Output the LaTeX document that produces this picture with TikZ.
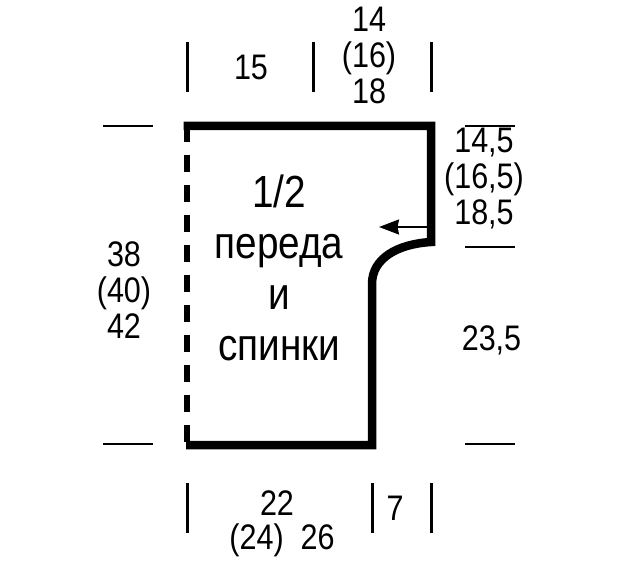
\documentclass[tikz,border=0pt]{standalone}
\usepackage{fontspec}
\setmainfont[FakeStretch=0.86]{Liberation Sans}
\usetikzlibrary{arrows.meta}
\tikzset{
  x=1pt,y=-1pt,
  heavy/.style={line width=8.5pt,line cap=butt,line join=miter},
  dashline/.style={line width=6.3pt,dash pattern=on 17pt off 13pt},
  tick/.style={line width=3pt},
  hbar/.style={line width=2.7pt},
  lab/.style={inner sep=0pt,align=center,font=\fontsize{35.5}{36}\selectfont},
  labtight/.style={inner sep=0pt,align=center,font=\fontsize{35.5}{34}\selectfont},
  big/.style={inner sep=0pt,align=center,font=\fontsize{45}{51}\selectfont}
}
\begin{document}
\begin{tikzpicture}
\useasboundingbox (0,0) rectangle (620,572);
\fill[white] (0,0) rectangle (620,572);
\coordinate (tl) at (187.3,125);
\coordinate (tr) at (431,126);
\coordinate (ne) at (431,242);
\coordinate (nw) at (372,284);
\coordinate (br) at (372,445);
\coordinate (bl) at (186,445);
\draw[dashline] (tl) -- (187.3,443);
\draw[heavy] (183.5,126) -- (tr) -- (ne) .. controls (398,244) and (372,258) .. (nw) -- (br) -- (bl);
\coordinate (as) at (428,227);
\coordinate (ae) at (379,227);
\draw[line width=1.6pt,-{Stealth[length=20pt,width=15pt,inset=1.5pt]}] (as) -- (ae);
\foreach \x/\a/\b in {187/42/92,313/42/92,431/42/92,187/483/533,372/483/533,431/483/533}
  \draw[tick] (\x,\a) -- (\x,\b);
\foreach \y/\a/\b in {126/103/153,444/103/153,126/465/515,247/465/515,444/465/515}
  \draw[hbar] (\a,\y) -- (\b,\y);
\node[lab] (t15) at (251,67) {15};
\node[lab] (t14) at (369,55) {14\\(16)\\18};
\node[lab] (r145) at (484,179) {14,5\\(16,5)\\18,5};
\node[lab] (r235) at (491.5,340) {23,5};
\node[lab] (l38) at (124,290) {38\\(40)\\42};
\node[labtight] (b22) at (282,524) {22\kern10pt\\(24)\ \ 26};
\node[lab] (b7) at (395,508) {7};
\node[big] (title) at (279,268) {1/2\\переда\\и\\спинки};
\end{tikzpicture}
\end{document}
